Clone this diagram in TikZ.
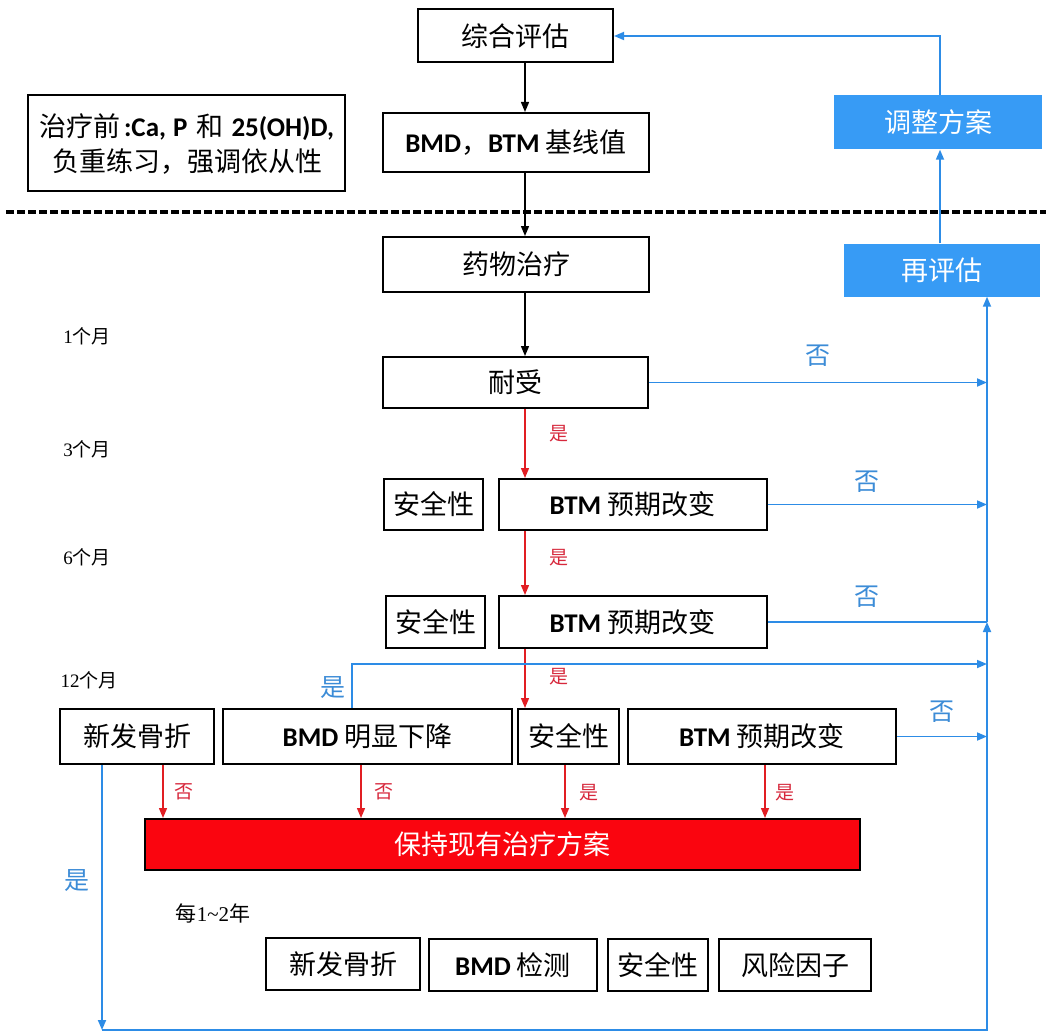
\documentclass[tikz,border=0pt]{standalone}
\usepackage{fontspec}
\setmainfont{Noto Sans CJK SC}
\newfontfamily\lat{Carlito}
\newfontfamily\serif{Liberation Serif}
\usetikzlibrary{arrows.meta}
\definecolor{bfill}{RGB}{55,155,245}
\definecolor{bline}{RGB}{45,140,230}
\definecolor{btext}{RGB}{60,140,215}
\definecolor{rline}{RGB}{225,30,35}
\definecolor{rtext}{RGB}{215,40,60}
\definecolor{rfill}{RGB}{250,5,15}
\tikzset{
  box/.style={draw=black, line width=2pt, fill=white, inner sep=0pt, align=center,
    font=\fontsize{27}{36}\selectfont},
  txt/.style={inner sep=0pt, font=\fontsize{27}{36}\selectfont},
  bluebox/.style={fill=bfill, draw=none, inner sep=0pt, text=white,
    font=\fontsize{27}{32}\selectfont},
  redbox/.style={fill=rfill, draw=black, line width=2pt, inner sep=0pt, text=white,
    font=\fontsize{27}{32}\selectfont},
  blk/.style={line width=1.4pt, -{Triangle[length=10pt,width=8pt]}},
  rar/.style={rline, line width=1.4pt, -{Triangle[length=10pt,width=8pt]}},
  bar/.style={bline, line width=1.7pt, -{Triangle[length=10pt,width=8pt]}},
  bln/.style={bline, line width=1.7pt},
  mlab/.style={font=\fontsize{19}{21}\selectfont, inner sep=0pt},
  rlab/.style={rtext, font=\fontsize{19}{21}\selectfont, inner sep=0pt},
  blab/.style={btext, font=\fontsize{25}{27}\selectfont, inner sep=0pt},
}
\begin{document}
\begin{tikzpicture}[x=1pt,y=-1pt]
\useasboundingbox (0,0) rectangle (1046,1035);
\fill[white] (0,0) rectangle (1046,1035);
% dashed separator
\draw[line width=3.5pt, dash pattern=on 8pt off 3pt] (6,212) -- (1046,212);
% coordinates
\coordinate (cx) at (525,0);
\coordinate (rx) at (987,0);
\coordinate (ax) at (940,0);
\coordinate (yes) at (352,664);
\coordinate (bl) at (102,1030);
\coordinate (br) at (987,1030);
% top part
\node[box, minimum width=195pt, minimum height=53pt] (zh) at (515.5,36) {综合评估};
\node[box, minimum width=266pt, minimum height=59pt] (base) at (516,142.5) {{\lat\bfseries BMD}，{\lat\bfseries BTM} 基线值};
\node[box, minimum width=317pt, minimum height=96pt] (pre) at (186.5,143.5) {};
\node[txt] (pre1) at (186.5,127) {治疗前\hspace{4pt}{\lat\bfseries :Ca,\hspace{7pt}P}\hspace{3pt} 和 \hspace{2pt}{\lat\bfseries 25(OH)D,}};
\node[txt] (pre2) at (187,162) {负重练习，强调依从性};
\node[bluebox, minimum width=208pt, minimum height=54pt] (adj) at (938,122.5) {调整方案};
\node[bluebox, minimum width=196pt, minimum height=53pt] (reeval) at (942,270) {再评估};
\node[box, minimum width=266pt, minimum height=55pt] (drug) at (516,264.5) {药物治疗};
% months
\node[mlab] (m1) at (87,336) {{\serif 1}个月};
\node[mlab] (m3) at (87,449) {{\serif 3}个月};
\node[mlab] (m6) at (87,557) {{\serif 6}个月};
\node[mlab] (m12) at (89,680) {{\serif 12}个月};
% 1 month
\node[box, minimum width=265pt, minimum height=51pt] (tol) at (515.5,382.5) {耐受};
% 3 months
\node[box, minimum width=99pt, minimum height=51pt] (safe3) at (433.5,504.5) {安全性};
\node[box, minimum width=268pt, minimum height=51pt] (btm3) at (632.5,504.5) {{\lat\bfseries BTM} 预期改变};
% 6 months
\node[box, minimum width=99pt, minimum height=52pt] (safe6) at (435.5,622) {安全性};
\node[box, minimum width=268pt, minimum height=52pt] (btm6) at (632.5,622) {{\lat\bfseries BTM} 预期改变};
% 12 months
\node[box, minimum width=154pt, minimum height=55pt] (frac12) at (137,736.5) {新发骨折};
\node[box, minimum width=289pt, minimum height=55pt] (bmd12) at (367.5,736.5) {{\lat\bfseries BMD} 明显下降};
\node[box, minimum width=101pt, minimum height=55pt] (safe12) at (568.5,736.5) {安全性};
\node[box, minimum width=268pt, minimum height=55pt] (btm12) at (762,736.5) {{\lat\bfseries BTM} 预期改变};
\node[redbox, minimum width=715pt, minimum height=51pt] (keep) at (502,844.5) {保持现有治疗方案};
% yearly
\node[mlab, font=\fontsize{21}{23}\selectfont] (yr) at (213,913) {每{\serif 1\textasciitilde 2}年};
\node[box, minimum width=154pt, minimum height=52pt] (fracY) at (343,964) {新发骨折};
\node[box, minimum width=168pt, minimum height=52pt] (bmdY) at (513,965) {{\lat\bfseries BMD} 检测};
\node[box, minimum width=100pt, minimum height=52pt] (safeY) at (658,965) {安全性};
\node[box, minimum width=152pt, minimum height=52pt] (riskY) at (795,965) {风险因子};
% black arrows
\draw[blk] (zh.south -| cx) -- (base.north -| cx);
\draw[blk] (base.south -| cx) -- (drug.north -| cx);
\draw[blk] (drug.south -| cx) -- (tol.north -| cx);
% red arrows
\draw[rar] (tol.south -| cx) -- (btm3.north -| cx);
\draw[rar] (btm3.south -| cx) -- (btm6.north -| cx);
\draw[rar] (btm6.south -| cx) -- (safe12.north -| cx);
\node[rlab] (y1) at (559,434) {是};
\node[rlab] (y2) at (559,558) {是};
\node[rlab] (y3) at (559,677) {是};
\coordinate (a1) at (163,0);
\coordinate (a2) at (361,0);
\coordinate (a3) at (565,0);
\coordinate (a4) at (765,0);
\draw[rar] (frac12.south -| a1) -- (keep.north -| a1);
\draw[rar] (bmd12.south -| a2) -- (keep.north -| a2);
\draw[rar] (safe12.south -| a3) -- (keep.north -| a3);
\draw[rar] (btm12.south -| a4) -- (keep.north -| a4);
\node[rlab] (n1) at (184,792) {否};
\node[rlab] (n2) at (384,792) {否};
\node[rlab] (y4) at (589,793) {是};
\node[rlab] (y5) at (785,793) {是};
% blue connectors
\draw[bar] (adj.north -| ax) |- (zh.east);
\draw[bar] (reeval.north -| ax) -- (adj.south -| ax);
\draw[bar] (tol.east) -- (tol.east -| rx);
\draw[bar] (btm3.east) -- (btm3.east -| rx);
\draw[bln] (btm6.east) -- (btm6.east -| rx);
\draw[bar] (bmd12.north -| yes) -- (yes) -- (yes -| rx);
\draw[bar] (btm12.east) -- (btm12.east -| rx);
\draw[bar] (frac12.south -| bl) -- (bl);
\draw[bar] (bl) -- (br) -- (btm6.east -| rx);
\draw[bar] (btm6.east -| rx) -- (reeval.south -| rx);
\node[blab] (b1) at (818,356) {否};
\node[blab] (b2) at (867,482) {否};
\node[blab] (b3) at (867,597) {否};
\node[blab] (b4) at (942,712) {否};
\node[blab] (b5) at (333,688) {是};
\node[blab] (b6) at (77,881) {是};
\end{tikzpicture}
\end{document}
